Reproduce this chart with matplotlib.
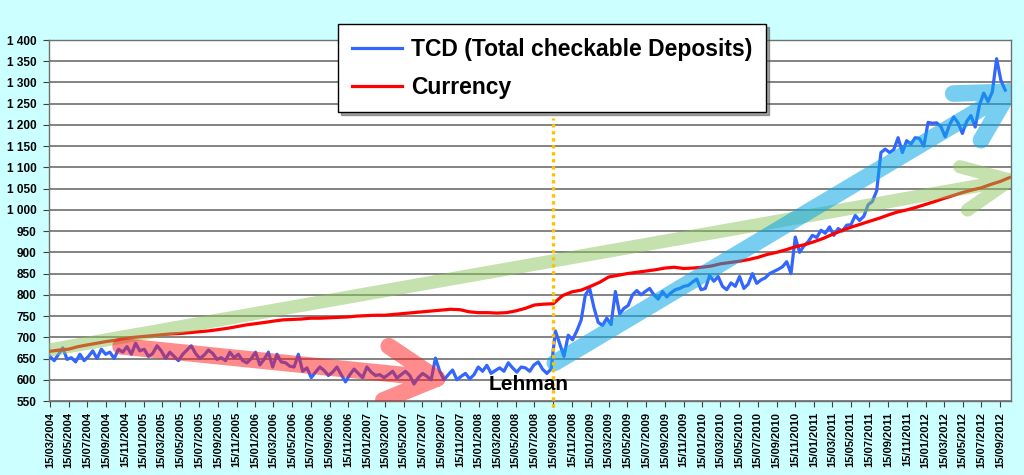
import numpy as np
import pandas as pd
import matplotlib
matplotlib.use('Agg')
import matplotlib.pyplot as plt
import matplotlib.dates as mdates
from matplotlib.path import Path
from matplotlib.patches import PathPatch
from matplotlib.ticker import FuncFormatter

plt.rcParams['font.family'] = ['Liberation Sans', 'DejaVu Sans']
plt.rcParams['font.weight'] = 'bold'

# TCD, one reading every 14 days from 15/03/2004
tcd_start = '2004-03-15'
tcd = [655, 645, 660, 675, 648, 652, 642, 660, 645, 655, 668, 650, 672, 660, 665, 650, 672,
       665, 678, 660, 686, 668, 672, 655, 662, 680, 668,
       650, 665, 655, 645, 660, 670, 680, 662, 650, 658,
       670, 662, 648, 652, 645, 665, 652, 660, 645, 640,
       650, 665, 635, 648, 665, 630, 660, 642, 640, 632,
       630, 660, 620, 628, 605, 618, 630, 622, 610, 618,
       630, 612, 595, 612, 625, 615, 605, 630, 618, 610,
       612, 605, 612, 620, 604, 612, 620, 610, 590, 605,
       615, 608, 600,
       651, 620, 600, 612, 623, 600, 608, 615, 602, 612,
       630, 620, 634, 615, 622, 628, 620, 640, 628, 618,
       630, 628, 620, 635, 642, 625, 615, 625,
       715, 685, 655, 705, 694, 715, 740, 800, 815, 770,
       735, 728, 745, 730, 808, 755, 768, 775, 800, 810,
       800, 808, 815, 800, 790, 808, 795, 805, 812, 815,
       820, 822, 830, 837, 812, 815, 845, 832, 843, 820,
       812, 828,
       820, 843, 815, 825, 850, 827, 835, 840, 850, 855,
       860, 866, 878, 850, 936, 900, 915, 925, 940, 935,
       952, 945, 960, 940, 956, 950, 964, 965, 987, 975,
       985, 1012, 1020, 1045, 1135,
       1143, 1135, 1142, 1170, 1135, 1163, 1155, 1170, 1168, 1150,
       1206, 1204, 1205, 1196, 1172, 1200, 1219, 1205, 1180, 1208,
       1222, 1195, 1247, 1275, 1255, 1278, 1356, 1305, 1282]

# Currency, monthly on the 15th from 15/03/2004
currency = [667, 670, 672, 678, 682, 686, 690, 693, 697, 700,
            702, 704, 706, 708, 709, 711, 713, 715, 718, 721,
            725, 729, 732, 735, 738, 741, 742, 743, 745, 745,
            746, 747, 748, 750, 751, 752, 752, 754, 756, 758,
            760, 762, 764, 766, 765, 760, 758, 758, 757, 758,
            762, 768, 776, 778, 779, 798, 807, 811, 820, 830,
            842, 846, 850, 853, 856, 859, 863, 865, 862, 863,
            865, 868, 873, 876, 879, 883, 888, 895, 900, 906,
            913, 918, 925, 933, 942, 951, 959, 966, 973, 980,
            988, 995, 1000, 1006, 1013, 1020, 1027, 1034, 1041, 1047,
            1052, 1060, 1067, 1076]

labels = ['TCD (Total checkable Deposits)', 'Currency']
tick_first, tick_last = '2004-03-01', '2012-09-01'
lehman_date = '2008-09-15'
lehman_top = 1216
x_min, x_max = '2004-03-12', '2012-10-20'
y_min, y_max = 550, 1400

# hand drawn trend arrows: start date, start value, tip date, tip value
arrows = [
    ('2004-03-12', 670, '2012-10-17', 1070, '#8cc45c', 0.5, 9.5, 52, 25),
    ('2004-11-01', 679, '2007-09-01', 603, '#ff1a1a', 0.5, 12, 58, 28),
    ('2008-09-20', 640, '2012-10-14', 1278, '#0aa6e6', 0.55, 12, 56, 29),
]

tcd_dates = pd.date_range(tcd_start, periods=len(tcd), freq='14D')
cur_dates = pd.date_range('2004-03-01', periods=len(currency), freq='MS') + pd.Timedelta(days=14)
tick_dates = pd.date_range(tick_first, tick_last, freq='2MS') + pd.Timedelta(days=14)

fig = plt.figure(figsize=(10.24, 4.75), dpi=100, facecolor='#ccffff')
ax = fig.add_axes([49 / 1024, 74 / 475, 962 / 1024, 361 / 475])
ax.set_facecolor('white')

ax.plot(tcd_dates, tcd, color='#3366ff', lw=2.3, label=labels[0], zorder=3,
        solid_joinstyle='round')
ax.plot(cur_dates, currency, color='#ff0000', lw=2.3, label=labels[1], zorder=3)

ax.set_xlim(pd.Timestamp(x_min), pd.Timestamp(x_max))
ax.set_ylim(y_min, y_max)
ax.set_yticks(np.arange(y_min, y_max + 1, 50))
ax.yaxis.set_major_formatter(FuncFormatter(lambda v, _: f'{int(v):,}'.replace(',', ' ')))
ax.set_xticks(tick_dates)
ax.xaxis.set_major_formatter(mdates.DateFormatter('%d/%m/%Y'))
ax.tick_params(axis='x', labelrotation=90, labelsize=8, length=4, pad=4, color='#404040')
ax.tick_params(axis='y', labelsize=8.5, length=4, pad=5, color='#404040')
ax.yaxis.grid(True, color='#6e6e6e', lw=1.2)
ax.set_axisbelow(True)
for sp in ax.spines.values():
    sp.set_color('#707070')
    sp.set_linewidth(1.0)

# Lehman marker
ax.axvline(pd.Timestamp(lehman_date), ymin=-0.017, ymax=(lehman_top - y_min) / (y_max - y_min),
           color='#ffc000', lw=2.4, ls=(0, (1, 1.1)), zorder=5, clip_on=False)
ax.text(pd.Timestamp('2008-02-17'), 576, 'Lehman', fontsize=15, fontweight='bold',
        ha='left', va='baseline', zorder=6)

# trend arrows, drawn in pixel space so the heads keep their shape
to_disp = ax.transData.transform
to_data = ax.transData.inverted().transform
for d0, v0, d1, v1, col, alp, lw, head_len, head_deg in arrows:
    p0 = to_disp((mdates.date2num(pd.Timestamp(d0)), v0))
    p1 = to_disp((mdates.date2num(pd.Timestamp(d1)), v1))
    ang = np.arctan2(p1[1] - p0[1], p1[0] - p0[0])
    arms = []
    for s in (1, -1):
        a = ang + np.pi + s * np.radians(head_deg)
        arms.append(p1 + head_len * np.array([np.cos(a), np.sin(a)]))
    pts = to_data(np.array([p0, p1, arms[0], p1, arms[1]]))
    codes = [Path.MOVETO, Path.LINETO, Path.MOVETO, Path.LINETO, Path.LINETO]
    ax.add_patch(PathPatch(Path(pts, codes), facecolor='none', edgecolor=col, alpha=alp,
                           lw=lw, capstyle='round', joinstyle='round', zorder=4))

leg = ax.legend(loc='upper left', bbox_to_anchor=(338 / 1024, 1 - 24 / 475),
                bbox_transform=fig.transFigure, prop={'size': 16.5, 'weight': 'bold'},
                frameon=True, fancybox=False, shadow=True, framealpha=1,
                edgecolor='black', handlelength=2.2, handletextpad=0.4,
                labelspacing=0.65, borderpad=0.6, borderaxespad=0)
leg.get_frame().set_linewidth(1.0)

fig.savefig('out.png', dpi=100, facecolor=fig.get_facecolor())
